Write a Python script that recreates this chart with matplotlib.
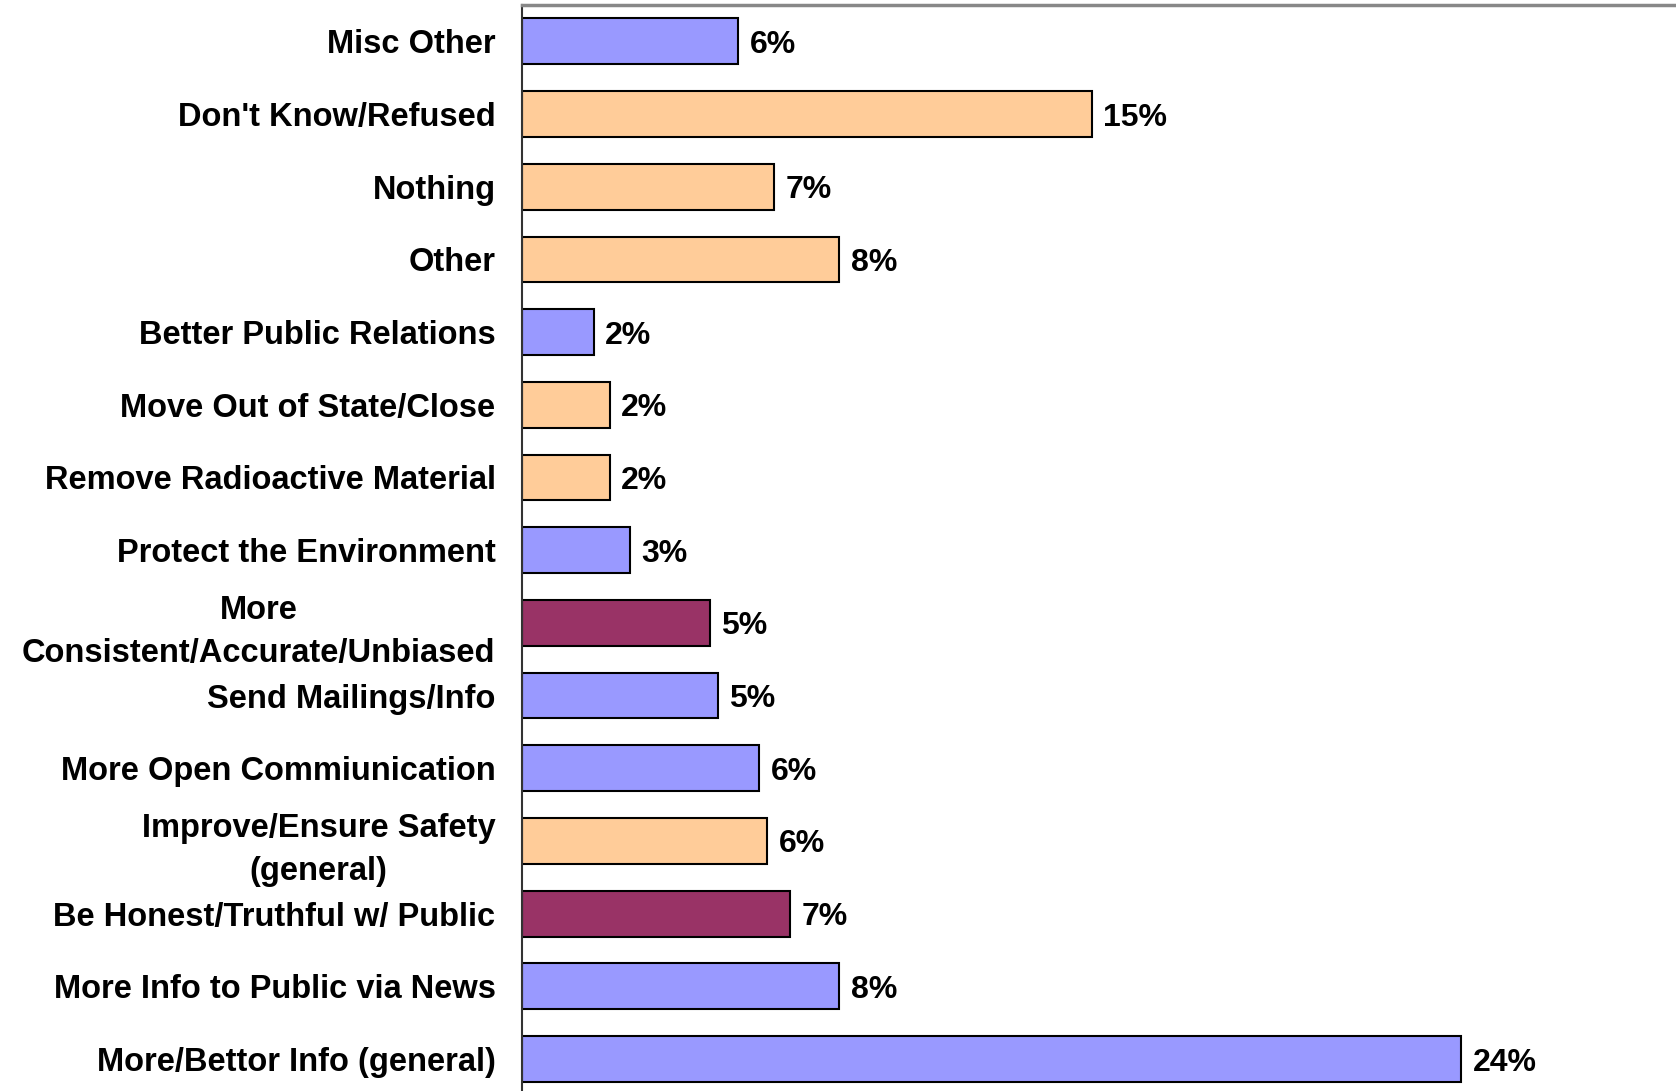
import matplotlib
matplotlib.use("Agg")
import matplotlib.pyplot as plt

categories = [
    "More/Bettor Info (general)",
    "More Info to Public via News",
    "Be Honest/Truthful w/ Public",
    "Improve/Ensure Safety\n(general)",
    "More Open Commiunication",
    "Send Mailings/Info",
    "More\nConsistent/Accurate/Unbiased",
    "Protect the Environment",
    "Remove Radioactive Material",
    "Move Out of State/Close",
    "Better Public Relations",
    "Other",
    "Nothing",
    "Don't Know/Refused",
    "Misc Other",
]
values = [24.0, 8.1, 6.86, 6.26, 6.07, 5.0, 4.8, 2.76, 2.24, 2.24, 1.83, 8.1, 6.45, 14.56, 5.52]
value_labels = ["24%", "8%", "7%", "6%", "6%", "5%", "5%", "3%", "2%", "2%", "2%", "8%", "7%", "15%", "6%"]
groups = ["blue", "blue", "maroon", "orange", "blue", "blue", "maroon", "blue",
          "orange", "orange", "blue", "orange", "orange", "orange", "blue"]
palette = {"blue": "#9999FF", "orange": "#FFCC99", "maroon": "#993366"}

plt.rcParams['font.family'] = ['Liberation Sans', 'DejaVu Sans']

fig = plt.figure(figsize=(16.76, 10.91), dpi=100)
W, H = 1676, 1091
ax = fig.add_axes([522 / W, 0, 1 - 522 / W, (H - 5) / H])

ypos = list(range(len(categories)))
bars = ax.barh(ypos, values, height=0.63, color=[palette[g] for g in groups],
               edgecolor="black", linewidth=1.5)

for b, lab in zip(bars, value_labels):
    ax.text(b.get_width() + 0.3, b.get_y() + b.get_height() / 2, lab,
            va="center_baseline", ha="left", fontsize=23, fontweight="bold")

ax.set_yticks(ypos)
ax.set_yticklabels(categories, fontsize=23.5, fontweight="bold",
                   multialignment="center", linespacing=1.5)
ax.tick_params(axis="y", length=0, pad=19)
ax.set_xticks([])
ax.set_xlim(0, 29.5)
ax.set_ylim(-0.44, 14.5)

for s in ["right", "bottom"]:
    ax.spines[s].set_visible(False)
ax.spines["top"].set_color("#888888")
ax.spines["top"].set_linewidth(2.5)
ax.spines["left"].set_color("#333333")
ax.spines["left"].set_linewidth(1.5)

fig.savefig("out.png", dpi=100)
